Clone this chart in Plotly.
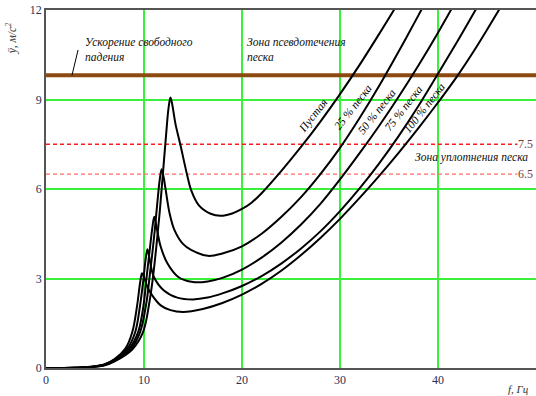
import plotly.graph_objects as go

# Frequency (Hz) / acceleration (m/s^2) readings for each loading case
curve_names = ["Пустая", "25 % песка", "50 % песка", "75 % песка", "100 % песка"]

f_empty = [0, 3, 4.5, 6, 7, 8.8, 9.9, 10.55, 10.9, 11.3, 11.65, 11.95, 12.25, 12.5, 12.7,
           12.9, 13.2, 13.7, 14.4, 14.8, 15.6, 16.8, 17.8, 19, 20, 21, 22, 24, 26, 28,
           30, 32, 34, 35.5, 36]
a_empty = [0, 0.01, 0.03, 0.09, 0.22, 0.62, 1.2, 2.2, 3.0, 4.2, 5.4, 6.6, 7.8, 8.7, 9.07,
           8.8, 8.2, 7.5, 6.47, 5.97, 5.45, 5.17, 5.1, 5.18, 5.33, 5.55, 5.86, 6.6, 7.4, 8.26,
           9.18, 10.16, 11.2, 12.0, 12.28]

f_25 = [0, 3, 4.5, 6, 7, 8.7, 9.6, 10.25, 10.55, 11.0, 11.35, 11.6, 11.8, 12.0, 12.2, 12.6,
        13.1, 14.0, 14.8, 16.5, 18, 20, 22, 24, 26, 28, 30, 32, 34, 36, 38, 39]
a_25 = [0, 0.01, 0.03, 0.1, 0.24, 0.65, 1.2, 2.2, 3.0, 4.3, 5.5, 6.3, 6.66, 6.4, 6.0, 5.2,
        4.63, 4.15, 3.96, 3.76, 3.84, 4.08, 4.5, 5.06, 5.72, 6.5, 7.38, 8.38, 9.46, 10.62,
        11.82, 12.44]

f_50 = [0, 3, 4.5, 6, 7, 8.5, 9.4, 9.95, 10.25, 10.6, 10.85, 11.05, 11.35, 11.7, 12.4, 13.5,
        15, 16.5, 18, 20, 22, 24, 26, 28, 30, 32, 34, 36, 38, 40, 42]
a_50 = [0, 0.01, 0.03, 0.11, 0.26, 0.65, 1.2, 2.1, 3.0, 4.0, 4.7, 5.07, 4.6, 4.07, 3.5, 3.05,
        2.88, 2.9, 3.02, 3.3, 3.7, 4.2, 4.8, 5.5, 6.32, 7.2, 8.12, 9.1, 10.14, 11.24, 12.4]

f_75 = [0, 3, 4.5, 6, 7, 8.3, 9.1, 9.6, 9.95, 10.15, 10.35, 10.6, 11.0, 12.0, 13.4, 15,
        16.5, 18, 20, 22, 24, 26, 28, 30, 32, 34, 36, 38, 40, 42, 44]
a_75 = [0, 0.01, 0.035, 0.12, 0.28, 0.65, 1.2, 2.1, 3.0, 3.6, 3.98, 3.6, 3.06, 2.61, 2.36, 2.3,
        2.36, 2.5, 2.75, 3.08, 3.5, 4.0, 4.58, 5.26, 6.02, 6.86, 7.78, 8.78, 9.86, 10.96, 12.1]

f_100 = [0, 3, 4.5, 6, 7, 8.1, 8.8, 9.3, 9.6, 9.8, 10.05, 10.35, 10.7, 11.7, 12.7, 14,
         16, 18, 20, 22, 24, 26, 28, 30, 32, 34, 36, 38, 40, 42, 44, 46, 47]
a_100 = [0, 0.01, 0.04, 0.13, 0.3, 0.65, 1.2, 2.1, 2.85, 3.18, 3.0, 2.72, 2.5, 2.1, 1.94, 1.88,
         1.98, 2.18, 2.46, 2.82, 3.26, 3.78, 4.36, 5.0, 5.7, 6.44, 7.22, 8.04, 8.9, 9.8, 10.8,
         11.88, 12.44]

curves_f = [f_empty, f_25, f_50, f_75, f_100]
curves_a = [a_empty, a_25, a_50, a_75, a_100]

# Reference levels
gravity = 9.81
compaction_levels = [7.5, 6.5]
compaction_colors = ["#ff1a1a", "#ff6a6a"]

x_ticks = [0, 10, 20, 30, 40]
y_ticks = [0, 3, 6, 9, 12]
x_max = 50

# Label placement for each curve (frequency, acceleration)
label_pos = [(27.3, 8.45), (31.3, 8.75), (33.8, 8.6), (36.5, 8.7), (38.6, 8.7)]

serif = "Liberation Serif"
fig = go.Figure()

fig.add_trace(go.Scatter(x=[0, x_max], y=[gravity, gravity], mode="lines",
                         line=dict(color="#8c4a10", width=4), hoverinfo="skip"))

for lvl, col in zip(compaction_levels, compaction_colors):
    fig.add_trace(go.Scatter(x=[0, 48.1], y=[lvl, lvl], mode="lines",
                             line=dict(color=col, width=1.3, dash="4px,3px"), hoverinfo="skip"))
    fig.add_annotation(x=x_max, y=lvl, text=f"{lvl}", showarrow=False, xanchor="right",
                       yanchor="middle", xshift=-1,
                       font=dict(family=serif, size=12, color="#7a3a3a"))

for fx, ay, name in zip(curves_f, curves_a, curve_names):
    fig.add_trace(go.Scatter(x=fx, y=ay, mode="lines", name=name,
                             line=dict(color="black", width=2, shape="spline", smoothing=1.0)))

for (lx, ly), name in zip(label_pos, curve_names):
    fig.add_annotation(x=lx, y=ly, text=f"<i>{name}</i>", showarrow=False, textangle=-52,
                       font=dict(family=serif, size=11.5, color="black"))

fig.add_annotation(x=3.8, y=11.2, text="<i>Ускорение свободного<br>падения</i>", showarrow=False,
                   xanchor="left", yanchor="top", align="left",
                   font=dict(family=serif, size=11.5, color="#111"))
# leader from the caption down to the gravity line
fig.add_shape(type="line", x0=3.27, y0=10.66, x1=2.65, y1=gravity,
              line=dict(color="black", width=1))
fig.add_annotation(x=20.3, y=11.2, text="<i>Зона псевдотечения<br>песка</i>", showarrow=False,
                   xanchor="left", yanchor="top", align="left",
                   font=dict(family=serif, size=11.5, color="#111"))
fig.add_annotation(x=37.4, y=7.05, text="<i>Зона уплотнения песка</i>", showarrow=False,
                   xanchor="left", yanchor="middle",
                   font=dict(family=serif, size=11.5, color="#111"))

fig.add_annotation(xref="paper", yref="paper", x=-0.07, y=0.92, text="<i>ÿ, м/с<sup>2</sup></i>",
                   showarrow=False, textangle=-90, xanchor="center", yanchor="middle",
                   font=dict(family=serif, size=11.5, color="#333"))
fig.add_annotation(xref="paper", yref="paper", x=0.965, y=-0.06, text="<i>f, Гц</i>",
                   showarrow=False, xanchor="center", yanchor="middle",
                   font=dict(family=serif, size=11, color="#333"))

fig.update_layout(
    width=536, height=396,
    margin=dict(l=46, r=0, t=10, b=28),
    paper_bgcolor="white", plot_bgcolor="white",
    showlegend=False,
    font=dict(family=serif, size=12, color="#2a2f55"),
)
fig.update_xaxes(range=[0, x_max], tickvals=x_ticks, ticks="", showgrid=True,
                 gridcolor="#3af03a", gridwidth=1.5, zeroline=False,
                 showline=True, linecolor="#555", linewidth=1.5, mirror=True,
                 tickfont=dict(family=serif, size=12, color="#2a2f55"))
fig.update_yaxes(range=[0, 12], tickvals=y_ticks, ticks="", showgrid=True,
                 gridcolor="#3af03a", gridwidth=1.5, zeroline=False,
                 showline=True, linecolor="#555", linewidth=1.5,
                 tickfont=dict(family=serif, size=12, color="#2a2f55"))

fig.write_html("out.html")
